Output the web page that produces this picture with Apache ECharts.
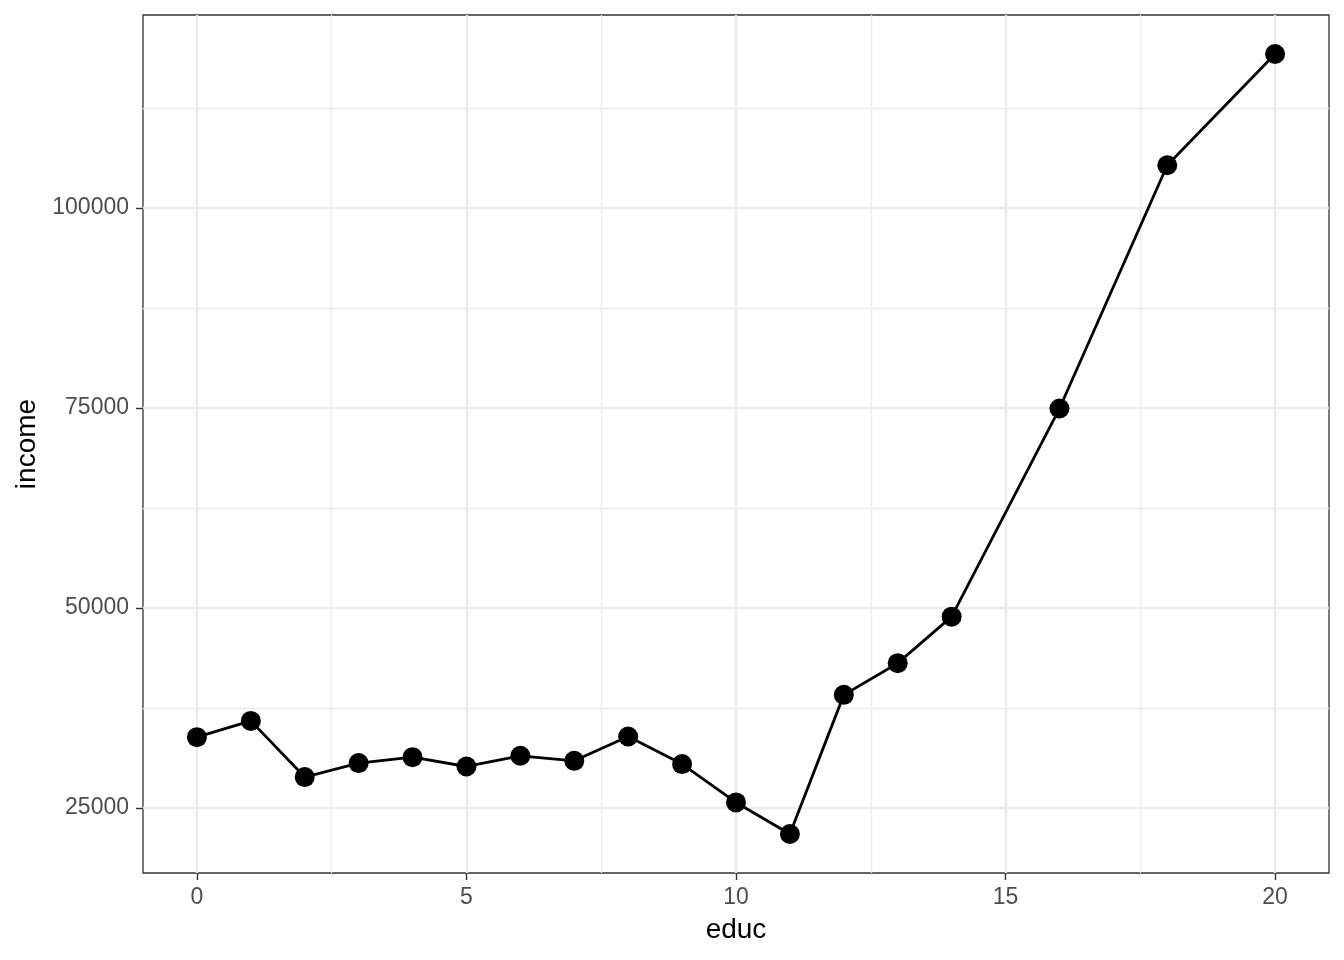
<!DOCTYPE html>
<html>
<head>
<meta charset="utf-8">
<title>income by educ</title>
<script src="https://cdn.jsdelivr.net/npm/echarts@6/dist/echarts.min.js"></script>
<style>
  html, body { margin: 0; padding: 0; background: #fff; }
  #chart { width: 1344px; height: 960px; }
</style>
</head>
<body>
<div id="chart"></div>
<script>
// data
const educ = [0, 1, 2, 3, 4, 5, 6, 7, 8, 9, 10, 11, 12, 13, 14, 16, 18, 20];
const income = [33860, 35890, 28870, 30620, 31360, 30190, 31530, 30900, 33940,
                30490, 25700, 21755, 39140, 43100, 48910, 74920, 105320, 119220];

// breaks
const xMajor = [0, 5, 10, 15, 20];
const xMinor = [2.5, 7.5, 12.5, 17.5];
const yMajor = [25000, 50000, 75000, 100000];
const yMinor = [37500, 62500, 87500, 112500];

// ggplot style 5% expansion on both axes
function expand(values) {
    const lo = Math.min(...values), hi = Math.max(...values);
    const pad = (hi - lo) * 0.05;
    return [lo - pad, hi + pad];
}
const xLim = expand(educ);
const yLim = expand(income);

const FONT = '"Liberation Sans", Arial, sans-serif';

function gridLines(axis, values, width) {
    return {
        type: 'line',
        data: [],
        z: 1,
        silent: true,
        markLine: {
            silent: true,
            symbol: ['none', 'none'],
            label: { show: false },
            animation: false,
            lineStyle: { color: '#EBEBEB', width: width, type: 'solid' },
            emphasis: { disabled: true },
            data: values.map(v => ({ [axis]: v }))
        }
    };
}

const chart = echarts.init(document.getElementById('chart'));
chart.setOption({
    animation: false,
    backgroundColor: '#ffffff',
    grid: {
        left: 143, right: 15, top: 15, bottom: 87,
        show: true,
        borderColor: '#333333',
        borderWidth: 1.3,
        backgroundColor: 'transparent'
    },
    xAxis: {
        type: 'value',
        min: xLim[0],
        max: xLim[1],
        name: 'educ',
        nameLocation: 'middle',
        nameGap: 43,
        nameTextStyle: { color: '#000', fontSize: 28, fontFamily: FONT },
        splitLine: { show: false },
        axisLine: { show: false, onZero: false },
        axisTick: {
            show: true, length: 7, customValues: xMajor,
            lineStyle: { color: '#333333', width: 1.4 }
        },
        axisLabel: {
            customValues: xMajor, margin: 13,
            color: '#4D4D4D', fontSize: 23, fontFamily: FONT
        }
    },
    yAxis: {
        type: 'value',
        min: yLim[0],
        max: yLim[1],
        name: 'income',
        nameLocation: 'middle',
        nameGap: 99,
        nameTextStyle: { color: '#000', fontSize: 28, fontFamily: FONT },
        splitLine: { show: false },
        axisLine: { show: false, onZero: false },
        axisTick: {
            show: true, length: 7, customValues: yMajor,
            lineStyle: { color: '#333333', width: 1.4 }
        },
        axisLabel: {
            customValues: yMajor, margin: 14,
            color: '#4D4D4D', fontSize: 23, fontFamily: FONT,
            formatter: v => String(v)
        }
    },
    series: [
        gridLines('xAxis', xMinor, 1.3),
        gridLines('yAxis', yMinor, 1.3),
        gridLines('xAxis', xMajor, 2.4),
        gridLines('yAxis', yMajor, 2.4),
        {
            name: 'income',
            type: 'line',
            z: 5,
            data: educ.map((e, i) => [e, income[i]]),
            symbol: 'circle',
            symbolSize: 20,
            showAllSymbol: true,
            itemStyle: { color: '#000000' },
            lineStyle: { color: '#000000', width: 2.8 }
        }
    ]
});
</script>
</body>
</html>
